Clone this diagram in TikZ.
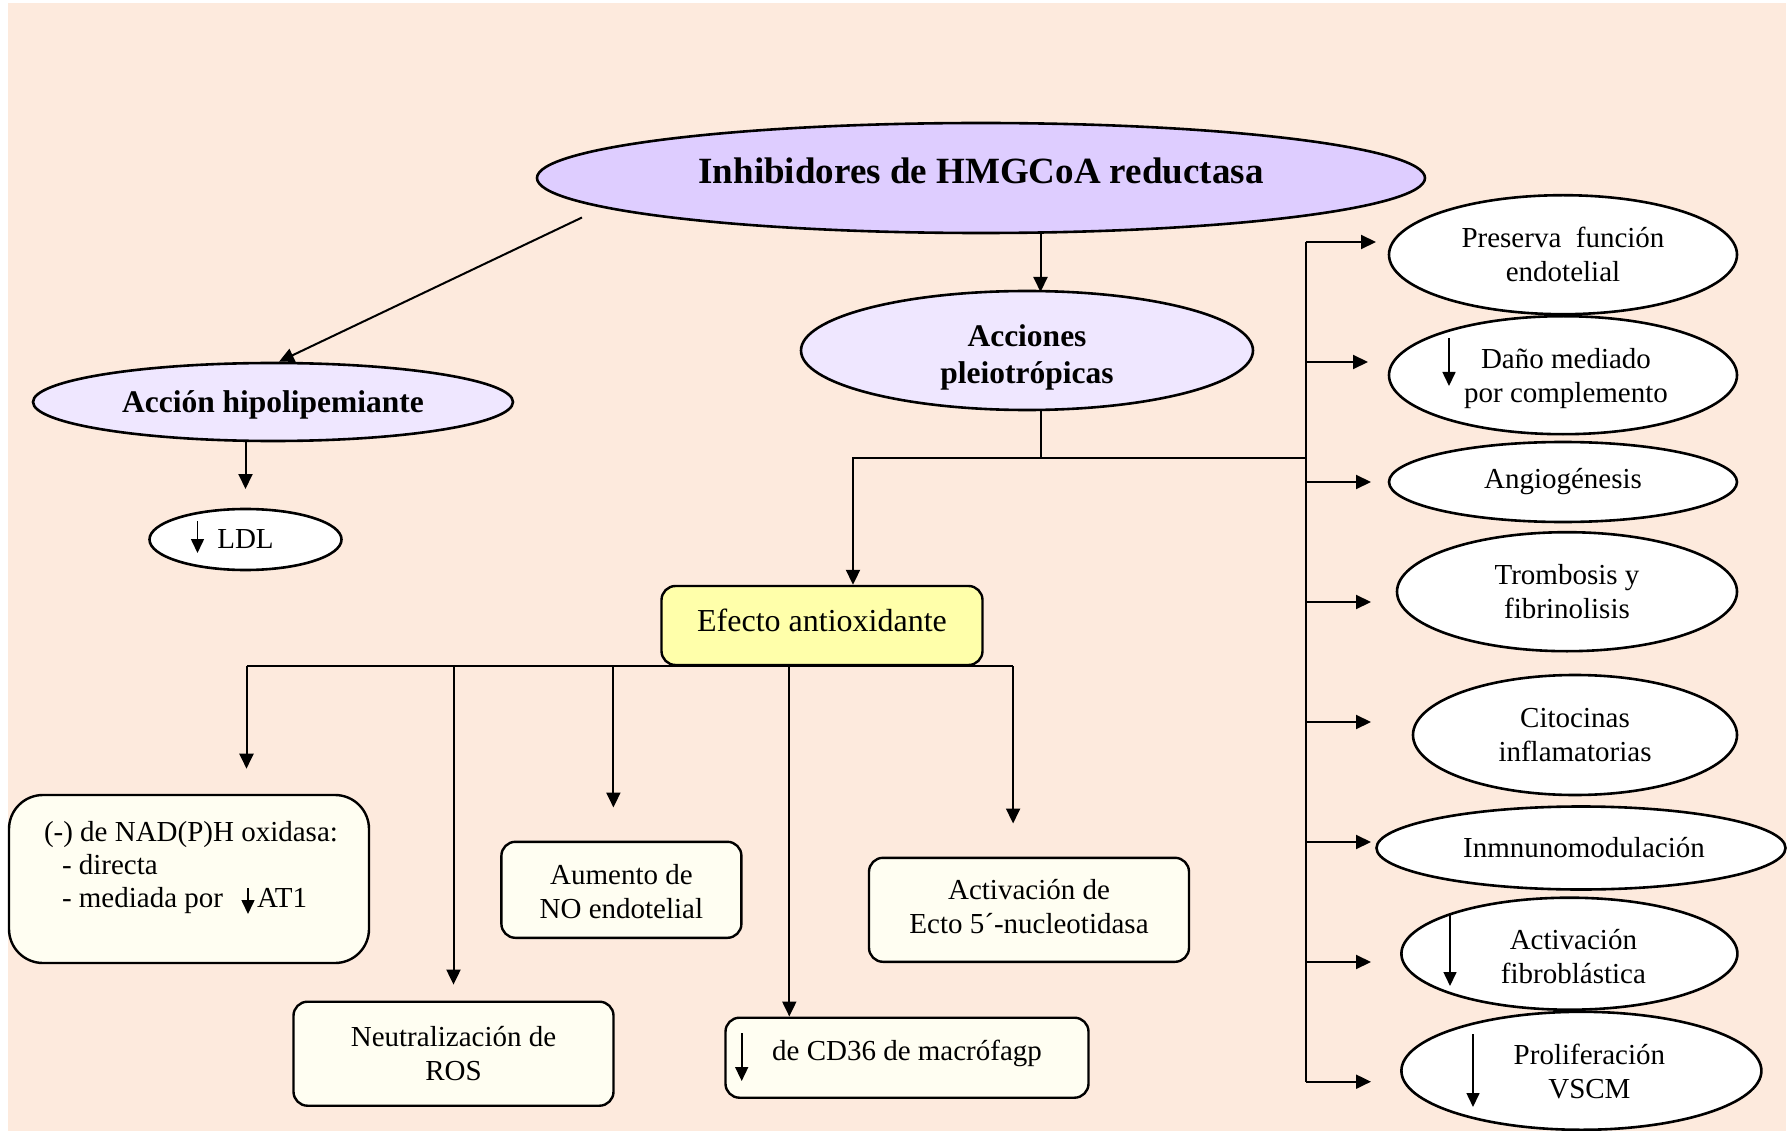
\documentclass[tikz,border=0pt]{standalone}
\usepackage{fontspec}
\setmainfont{Liberation Serif}
\usetikzlibrary{shapes.geometric,arrows.meta}

\definecolor{bgpeach}{RGB}{253,234,221}
\definecolor{lilac}{RGB}{222,205,255}
\definecolor{lilaclight}{RGB}{239,231,255}
\definecolor{paleyellow}{RGB}{255,255,170}
\definecolor{ivory}{RGB}{255,254,242}

\newcommand\regtext{\fontsize{29}{34}\selectfont}
\newcommand\boldtext{\fontsize{31.5}{36.5}\selectfont\bfseries}
\newcommand\titletext{\fontsize{37}{42}\selectfont\bfseries}
% shift a (possibly multi-line) label by dx, dy without changing its size
\newcommand\nudge[3]{\raisebox{#2}[\height][\depth]{\hspace*{#1}\begin{tabular}{@{}c@{}}#3\end{tabular}\hspace*{-#1}}}

\begin{document}
\begin{tikzpicture}[x=1pt,y=-1pt,
  conn/.style={line width=2pt},
  arr/.style={conn,-{Triangle[length=15pt,width=14pt]}},
  tinyarr/.style={line width=1.6pt,-{Triangle[length=14pt,width=13pt]}},
  oval/.style={ellipse,draw,line width=2.6pt,inner sep=0pt,align=center,font=\regtext,fill=white},
  card/.style={rectangle,draw,line width=2.4pt,rounded corners=14pt,inner sep=0pt,align=center,font=\regtext,fill=ivory},
]
\useasboundingbox (0,0) rectangle (1791,1131);
\fill[white] (0,0) rectangle (1791,1131);
\fill[bgpeach] (8,3) rectangle (1786,1131);

% --- main nodes ---
\node[oval,fill=lilac,font=\titletext,minimum width=888,minimum height=110] (main) at (981,178) {\nudge{0pt}{2.5pt}{Inhibidores de HMGCoA reductasa}};
\node[oval,fill=lilaclight,font=\boldtext,minimum width=480,minimum height=78] (hipo) at (273,402) {\nudge{0pt}{-3pt}{Acción hipolipemiante}};
\node[oval,minimum width=192,minimum height=61] (ldl) at (245.5,539.5) {LDL};
\node[oval,fill=lilaclight,font=\boldtext,minimum width=452,minimum height=119] (acc) at (1027,350.5) {\nudge{0pt}{-7pt}{Acciones\\pleiotrópicas}};
\node[card,fill=paleyellow,minimum width=321,minimum height=79,font=\fontsize{32}{37}\selectfont] (ef) at (822,625.5) {\nudge{0pt}{1.5pt}{Efecto antioxidante}};

% --- antioxidant effects ---
\node[card,rounded corners=34pt,minimum width=360,minimum height=168] (nad) at (189,879)
  {\parbox[c][116pt][t]{290pt}{\fontsize{29}{33}\selectfont\raggedright
   \mbox{(-) de NAD(P)H oxidasa:}\\
   \hspace*{18pt}- directa\\
   \hspace*{18pt}- mediada por\hspace{34pt}AT1}};
\node[card,minimum width=320,minimum height=104] (ros) at (453.5,1053.7) {Neutralización de\\ROS};
\node[card,minimum width=240,minimum height=96] (aum) at (621.4,889.8) {\nudge{0pt}{-4.5pt}{Aumento de\\NO endotelial}};
\node[card,minimum width=320,minimum height=104] (ecto) at (1029,909.8) {\nudge{0pt}{0pt}{Activación de\\Ecto 5´-nucleotidasa}};
\node[card,minimum width=363,minimum height=80] (cd36) at (907,1057.7) {\nudge{0pt}{4.5pt}{de CD36 de macrófagp}};

% --- pleiotropic effects ---
\node[oval,minimum width=348,minimum height=119] (r1) at (1563,254.7) {Preserva~ función\\endotelial};
\node[oval,minimum width=348,minimum height=118] (r2) at (1563,375.2) {\nudge{3pt}{-4pt}{Daño mediado\\por complemento}};
\node[oval,minimum width=348,minimum height=80] (r3) at (1563,482) {Angiogénesis};
\node[oval,minimum width=340,minimum height=119] (r4) at (1567,591.7) {Trombosis y\\fibrinolisis};
\node[oval,minimum width=324,minimum height=120] (r5) at (1575,735) {Citocinas\\inflamatorias};
\node[oval,minimum width=409,minimum height=83] (r6) at (1581,848) {\nudge{3pt}{-3pt}{Inmnunomodulación}};
\node[oval,minimum width=336,minimum height=112] (r7) at (1569.4,953.7) {\nudge{4pt}{-6pt}{Activación\\fibroblástica}};
\node[oval,minimum width=360,minimum height=118] (r8) at (1581.4,1070.8) {\nudge{8pt}{-4pt}{Proliferación\\VSCM}};

% --- decrease marks inside the labels ---
\draw[tinyarr] ([shift={(-48,-18.5)}]ldl.center) -- ([shift={(-48,13.5)}]ldl.center);
\draw[tinyarr] ([shift={(59,9)}]nad.center) -- ([shift={(59,35)}]nad.center);
\draw[tinyarr] ([shift={(-165.3,-24.7)}]cd36.center) -- ([shift={(-165.3,23.3)}]cd36.center);
\draw[tinyarr] ([shift={(-114,-37.2)}]r2.center) -- ([shift={(-114,10.8)}]r2.center);
\draw[tinyarr] ([shift={(-119.4,-38.7)}]r7.center) -- ([shift={(-119.4,32.3)}]r7.center);
\draw[tinyarr] ([shift={(-108.4,-36.8)}]r8.center) -- ([shift={(-108.4,36.2)}]r8.center);

% --- connectors from the main node ---
\coordinate (mstart) at (582,217.5);
\draw[arr] (mstart) -- ([shift={(6,0)}]hipo.north);
\coordinate (ldltip) at (245.5,489);
\draw[arr] (ldltip |- hipo.south) -- (ldltip);
\coordinate (acctop) at (1040.5,292);
\draw[arr] (acctop |- main.south) -- (acctop);

% --- split below the pleiotropic node ---
\coordinate (j1) at (1040.5,458);
\coordinate (eftop) at (853,586);
\coordinate (bus) at (1305.5,242);
\coordinate (busend) at (1305.5,1081.7);
\draw[conn] (j1 |- acc.south) -- (j1);
\draw[arr] (j1) -| (eftop |- ef.north);
\draw[conn] (j1) -- (j1 -| bus);
\draw[conn] (bus) -- (busend);
\foreach \n/\yy/\xx in {1/242/1376,2/362/1368,3/482/1371,4/602/1371,5/722/1371,6/842/1371,7/962/1371,8/1081.7/1371}
  \coordinate (t\n) at (\xx,\yy);
\foreach \n in {1,...,8}
  \draw[arr] (bus |- t\n) -- (t\n);

% --- branches of the antioxidant effect ---
\coordinate (b1) at (246.5,768.7);
\coordinate (b2) at (453.5,984.6);
\coordinate (b3) at (613.4,807.5);
\coordinate (b4) at (789.3,1017.7);
\coordinate (b5) at (1013.1,823.5);
\draw[conn] (b1 |- ef.south) -- (b5 |- ef.south);
\foreach \b in {b1,b2,b3,b5}
  \draw[arr] (\b |- ef.south) -- (\b);
\draw[arr] (b4 |- ef.south) -- (b4 |- cd36.north);
\end{tikzpicture}
\end{document}
